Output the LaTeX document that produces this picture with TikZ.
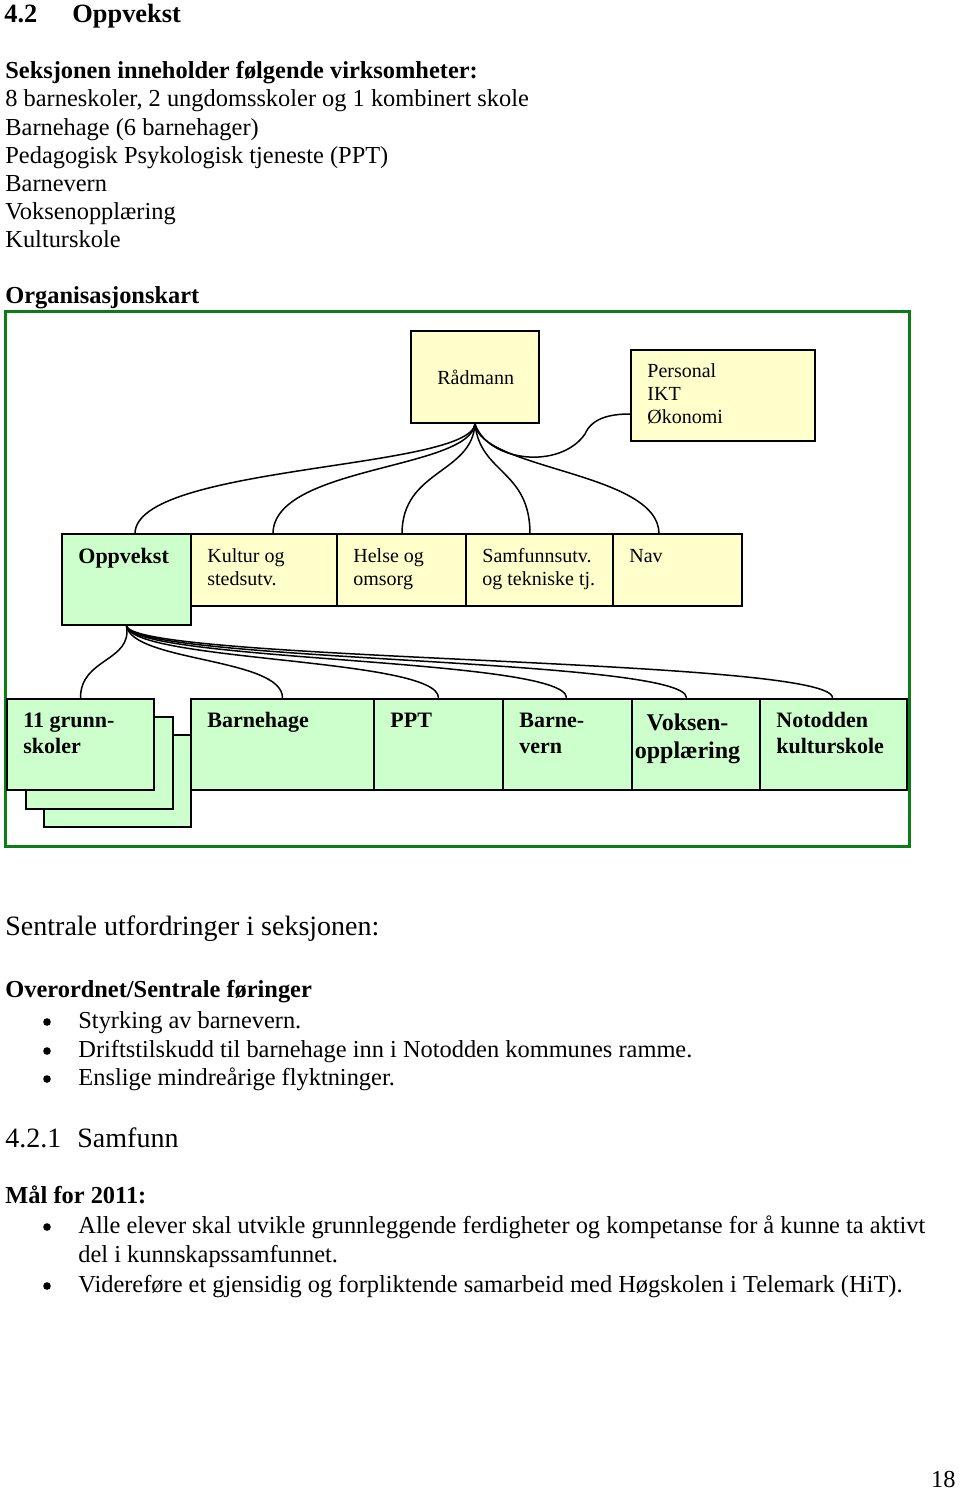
\documentclass[tikz,border=0pt]{standalone}
\usepackage{fontspec}
\setmainfont{Liberation Serif}
\usetikzlibrary{calc}
\definecolor{boxyellow}{RGB}{255,255,204}
\definecolor{boxgreen}{RGB}{204,255,204}
\definecolor{framegreen}{RGB}{10,125,20}
\newcommand{\fs}[2]{\fontsize{#1}{#2}\selectfont}
\begin{document}
\begin{tikzpicture}
	[x=0.5pt,y=-0.5pt,
	ybox/.style={rectangle,draw=black,fill=boxyellow,line width=0.8pt,inner sep=0pt},
	gbox/.style={rectangle,draw=black,fill=boxgreen,line width=0.8pt,inner sep=0pt},
	txt/.style={anchor=base west,inner sep=0pt,align=left,font=\fs{12.2}{14}},
	ytxt/.style={txt,font=\fs{10}{11.5}},
	gtxt/.style={txt,font=\fs{11}{13}\bfseries},
	dotb/.style={circle,fill=black,inner sep=0pt,minimum size=3.8pt},
	link/.style={line width=0.75pt}]
	\useasboundingbox (0,0) rectangle (960,1492);
	% heading and list
	\node[txt,font=\fs{13.2}{16}\bfseries] (h1a) at (4,23) {4.2};
	\node[txt,font=\fs{13.2}{16}\bfseries] (h1b) at (72,23) {Oppvekst};
	\node[txt,font=\fs{12.2}{14}\bfseries] (virk) at (5,79) {Seksjonen inneholder følgende virksomheter:};
	\node[txt] (v1) at (5,107) {8 barneskoler, 2 ungdomsskoler og 1 kombinert skole};
	\node[txt] (v2) at (5,136) {Barnehage (6 barnehager)};
	\node[txt] (v3) at (5,164) {Pedagogisk Psykologisk tjeneste (PPT)};
	\node[txt] (v4) at (5,192) {Barnevern};
	\node[txt] (v5) at (5,220) {Voksenopplæring};
	\node[txt] (v6) at (5,248) {Kulturskole};
	\node[txt,font=\fs{12.2}{14}\bfseries] (orgk) at (5,304) {Organisasjonskart};
	% frame
	\draw[framegreen,line width=1.5pt] (5.5,312) rectangle (909,846.5);
	% top level
	\node[ybox,minimum width=64pt,minimum height=46pt] (rad) at (475,377) {};
	\node[ybox,minimum width=92pt,minimum height=45.5pt] (pers) at (723,395.5) {};
	\draw[link] (rad.south) .. controls (488,462) and (560,470) .. (585,434)
		.. controls (592,418) and (610,414) .. ($(pers.west)+(0,18.5)$);
	% second level
	\draw[link] (rad.south) .. controls +(-5,46) and +(0,-69) .. ($(rad.south)+(-340,110)$);
	\draw[link] (rad.south) .. controls +(-5,46) and +(0,-68) .. ($(rad.south)+(-202,110)$);
	\draw[link] (rad.south) .. controls +(-3,50) and +(0,-64) .. ($(rad.south)+(-73,110)$);
	\draw[link] (rad.south) .. controls +(5,50) and +(0,-64) .. ($(rad.south)+(55,110)$);
	\draw[link] (rad.south) .. controls +(5,46) and +(0,-62) .. ($(rad.south)+(184,110)$);
	\node[gbox,minimum width=64.5pt,minimum height=45.5pt] (opp) at (126.5,579.5) {};
	\node[ybox,minimum width=73pt,minimum height=36pt] (kul) at (264,570) {};
	\node[ybox,minimum width=64.5pt,minimum height=36pt] (hel) at (401.5,570) {};
	\node[ybox,minimum width=73.5pt,minimum height=36pt] (sam) at (539.5,570) {};
	\node[ybox,minimum width=64.5pt,minimum height=36pt] (nav) at (677.5,570) {};
	\node[ytxt] (t-rad) at (437,385) {Rådmann};
	\node[ytxt] (t-pers) at (647,423) {Personal\\IKT\\Økonomi};
	\node[gtxt] (t-opp) at (78,563) {Oppvekst};
	\node[ytxt] (t-kul) at (207,585) {Kultur og\\stedsutv.};
	\node[ytxt] (t-hel) at (353,585) {Helse og\\omsorg};
	\node[ytxt] (t-sam) at (482,585) {Samfunnsutv.\\og tekniske tj.};
	\node[ytxt] (t-nav) at (629,562) {Nav};
	% third level
	\foreach \dx in {-46, 156, 312, 440, 560, 706}
		\draw[link] (opp.south) .. controls +(6,36) and +(0,-40) .. ($(opp.south)+(\dx,72)$);
	\node[gbox,minimum width=73.5pt,minimum height=46pt] (gs3) at (117.5,781) {};
	\node[gbox,minimum width=73.5pt,minimum height=46pt] (gs2) at (99.5,763) {};
	\node[gbox,minimum width=73.5pt,minimum height=45.5pt] (gs1) at (80.5,744.5) {};
	\node[gbox,minimum width=91.5pt,minimum height=45.5pt] (bhg) at (282.5,744.5) {};
	\node[gbox,minimum width=64.5pt,minimum height=45.5pt] (ppt) at (438.5,744.5) {};
	\node[gbox,minimum width=64.5pt,minimum height=45.5pt] (bv) at (567.5,744.5) {};
	\node[gbox,minimum width=64pt,minimum height=45.5pt] (vo) at (696,744.5) {};
	\node[gbox,minimum width=73.5pt,minimum height=45.5pt] (ks) at (833.5,744.5) {};
	\node[gtxt] (t-gs) at (23,753) {11 grunn-\\skoler};
	\node[gtxt] (t-bhg) at (207,727) {Barnehage};
	\node[gtxt] (t-ppt) at (390,727) {PPT};
	\node[gtxt] (t-bv) at (519,753) {Barne-\\vern};
	\node[gtxt,anchor=base,align=center,font=\fs{12}{14}\bfseries] (t-vo) at (687.5,758) {Voksen-\\opplæring};
	\node[gtxt] (t-ks) at (776,753) {Notodden\\kulturskole};
	% challenges
	\node[txt,font=\fs{14}{16}] (sentr) at (5,935) {Sentrale utfordringer i seksjonen:};
	\node[txt,font=\fs{12.2}{14}\bfseries] (over) at (5,997) {Overordnet/Sentrale føringer};
	\foreach \yy/\tx [count=\i] in {1028/Styrking av barnevern., 1057/Driftstilskudd til barnehage inn i Notodden kommunes ramme., 1085/Enslige mindreårige flyktninger.}
	{
		\node[dotb] (b\i) at (47,\yy-6) {};
		\node[txt] (s\i) at (78,\yy) {\tx};
	}
	\node[txt,font=\fs{14}{16}] (h2a) at (5,1147) {4.2.1};
	\node[txt,font=\fs{14}{16}] (h2b) at (77,1147) {Samfunn};
	\node[txt,font=\fs{12.2}{14}\bfseries] (maal) at (5,1203) {Mål for 2011:};
	\node[dotb] (m1) at (47,1227) {};
	\node[txt] (mt1) at (78,1233) {Alle elever skal utvikle grunnleggende ferdigheter og kompetanse for å kunne ta aktivt};
	\node[txt] (mt1b) at (78,1262) {del i kunnskapssamfunnet.};
	\node[dotb] (m2) at (47,1286) {};
	\node[txt] (mt2) at (78,1292) {Videreføre et gjensidig og forpliktende samarbeid med Høgskolen i Telemark (HiT).};
	\node[txt,anchor=base east] (pg) at (956,1487) {18};
\end{tikzpicture}
\end{document}
